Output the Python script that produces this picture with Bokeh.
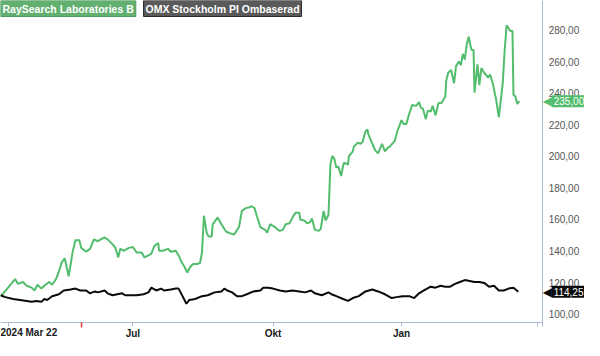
from bokeh.plotting import figure
from bokeh.models import Range1d, FixedTicker, Label, LinearAxis
from bokeh.embed import file_html
from bokeh.resources import INLINE

# trading-session index (x) and values
green_x = [0, 1, 7.5, 9, 11.5, 13.5, 16, 17.5, 19, 21, 22.5, 25, 26.5, 28.5, 30, 31.5, 33, 35, 36, 37,
           38.5, 40.5, 41.5, 44, 46, 48, 50, 51.5, 53.5, 55, 57.5, 59, 60.5, 61.5, 63.5, 66, 68,
           70, 72.5, 74, 76, 77.5, 79, 81, 81.5, 83.5, 86, 87.5, 90, 91.5, 93, 94.5, 96, 97.5, 99,
           101, 102.5, 103.5, 104.5, 106, 107, 108.5, 109, 111.5, 113.5, 115, 116, 118.5, 120,
           122.5, 124, 126, 128, 129, 130.5, 131.5, 133.5, 135,
           136, 137, 138.5, 141, 142.5, 143.5, 145, 146.5, 148.5, 150, 151.5, 153.5, 154, 156,
           157.5, 159, 160, 161.5, 163.5, 164.5, 166, 167, 168.5, 169.5, 170.5, 171.5, 172.5,
           173.5, 175, 176, 176.5, 178.5, 179, 181, 181.5, 183.5, 185, 186, 187.5, 188.5, 189,
           191, 192.5, 194, 196, 197.5, 199, 200,
           202.5, 204, 206, 207, 208.5, 210, 211.5, 213.5, 215, 216, 217, 218.5, 219.5, 221, 222,
           223.5, 225, 226.5, 228.5, 229, 230, 231.5, 233, 234, 235.5, 236.5, 237.5, 238.5, 239.5,
           240.5, 241.5, 242, 243, 243.5, 245, 246, 247, 248.5, 250.5, 251.5, 253, 254, 254.5,
           256, 256.5, 258, 259, 260, 261, 262, 263, 263.5, 264.5, 265.5, 266.5]
green_y = [111.4, 112.6, 122.2, 119.2, 120.4, 118.0, 116.8, 115.0, 118.6, 116.2, 118.0, 120.4, 118.6,
           122.2, 127.0, 133.0, 135.4, 124.0, 131.2, 139.0, 146.8, 146.8, 142.0, 139.6, 141.4,
           147.4, 146.2, 147.4, 148.6, 147.4, 144.4, 142.0, 136.0, 141.4, 140.2, 142.0, 142.6,
           139.0, 139.0, 136.0, 137.2, 138.4, 143.2, 145.0, 140.2, 140.2, 141.4, 139.6, 140.2,
           137.2, 133.0, 130.0, 126.4, 130.0, 131.8, 131.8, 132.4, 139.0, 162.4, 151.0, 149.2,
           149.2, 157.0, 161.2, 157.0, 154.0, 152.2, 151.0, 150.4, 155.2, 165.4, 167.2, 167.8,
           168.4, 167.2, 163.0, 155.2, 154.0,
           153.4, 151.6, 157.0, 155.2, 153.4, 152.8, 153.4, 157.0, 157.6, 161.2, 164.2, 164.2,
           160.0, 159.4, 157.6, 158.2, 160.6, 153.4, 152.8, 154.0, 165.4, 159.4, 163.0, 195.4,
           200.2, 198.4, 193.0, 193.6, 187.6, 194.2, 196.0, 194.8, 200.2, 203.2, 206.2, 208.6,
           208.0, 209.2, 215.8, 217.0, 214.0, 208.0, 203.8, 202.0, 208.0, 203.2, 205.6, 206.2,
           209.8, 216.4, 223.0, 220.6, 220.6, 227.2, 232.6, 232.0, 234.4, 230.8, 230.2, 223.6,
           229.0, 228.4, 232.0, 226.0, 233.8, 233.8, 238.0, 248.2, 253.0, 254.8, 246.4, 257.2,
           260.2, 257.8, 265.0, 261.4, 271.0, 275.8, 269.8, 267.4, 267.4, 240.4, 258.4, 245.2,
           256.0, 253.0, 250.0, 251.8, 245.8, 239.2, 236.8, 224.8, 230.2, 246.4, 267.4, 283.0,
           281.2, 279.4, 279.4, 239.2, 238.0, 233.2, 235.0]

black_x = [0, 2.5, 6.5, 10, 13.5, 16, 18.5, 21, 22.5, 24, 26.5, 30, 32.5, 36, 38.5, 41, 44, 46, 48.5,
           50, 53.5, 55, 57.5, 60, 62.5, 64, 66.5, 70, 73.5, 76, 77.5, 80, 82.5, 84, 87.5, 90, 91.5,
           93.5, 95.5, 97, 100, 103.5, 106.5, 110, 113.5, 115, 116.5, 119, 121.5, 124, 126.5, 130,
           133.5, 135, 137.5, 140, 143.5, 146.5, 150, 153.5, 156.5, 159.5, 161.5, 165, 168.5, 170,
           172.5, 176, 178.5, 181, 184, 187.5, 191, 194, 197.5, 201, 203.5, 206.5, 210, 212.5, 215,
           217.5, 221, 223.5, 226, 228.5, 231, 233.5, 236, 238.5, 241, 243.5, 246, 248.5, 251,
           253.5, 256, 258.5, 261, 263.5, 266]
black_y = [112.0, 110.8, 109.6, 109.0, 108.4, 107.8, 108.4, 107.8, 109.6, 109.0, 111.4, 112.6, 115.0,
           115.6, 116.2, 115.0, 115.0, 113.2, 114.4, 113.8, 115.0, 113.2, 112.0, 112.6, 113.2, 112.0,
           112.0, 112.0, 112.6, 113.8, 116.8, 115.0, 116.2, 115.0, 115.6, 116.2, 116.2, 111.4, 106.6,
           109.0, 109.6, 111.4, 112.0, 113.8, 114.4, 116.2, 115.0, 113.8, 111.4, 111.4, 112.6, 114.4,
           115.0, 116.8, 116.8, 116.2, 115.0, 114.4, 115.0, 114.4, 113.8, 115.0, 113.2, 112.0, 113.8,
           112.6, 111.4, 109.6, 108.4, 110.2, 111.4, 114.4, 115.6, 114.4, 112.6, 110.2, 110.8, 111.4,
           111.4, 110.2, 113.2, 115.0, 117.4, 116.8, 118.0, 117.4, 117.4, 119.2, 120.4, 121.6, 121.0,
           120.4, 120.4, 119.8, 117.4, 118.0, 115.0, 115.0, 116.2, 116.8, 114.25]

x_tick_pos = [4, 68, 140, 206, 276]
x_tick_labels = ["", "Jul", "Okt", "Jan", ""]
first_date_label = "2024 Mar 22"
marker_pos = [41.5]
y_ticks = [100, 120, 140, 160, 180, 200, 220, 240, 260, 280]
y_tick_labels = ["100,00", "120,00", "140,00", "160,00", "180,00", "200,00", "220,00", "240,00",
                 "260,00", "280,00"]
series_names = ["RaySearch Laboratories B", "OMX Stockholm PI Ombaserad"]
last_green = 235.0
last_black = 114.25

X_END_DATA = 278.5   # right edge of the plotting area (where the price axis sits)
Y_BASE = 94.6        # value at the time axis line
X_MAX, Y_MIN, Y_MAX = 300, 83.3, 298.8

GREEN = "#52bd6c"
AXIS = "#a9bed3"
FONT = "Liberation Sans"

p = figure(width=584, height=340, output_backend="svg", toolbar_location=None,
           x_range=Range1d(0, X_MAX), y_range=Range1d(Y_MIN, Y_MAX),
           min_border_left=0, min_border_top=0, min_border_right=0, min_border_bottom=0,
           y_axis_location="right")
p.outline_line_color = None
p.grid.visible = False
p.background_fill_color = "white"
p.border_fill_color = "white"

p.line(green_x, green_y, line_color=GREEN, line_width=2)
p.line(black_x, black_y, line_color="#0a0a0a", line_width=2)

xa = p.xaxis[0]
xa.fixed_location = Y_BASE
xa.bounds = (0, X_END_DATA)
xa.ticker = FixedTicker(ticks=x_tick_pos)
xa.major_label_overrides = {t: l for t, l in zip(x_tick_pos, x_tick_labels)}
xa.minor_tick_line_color = None
xa.major_tick_in = 0
xa.major_tick_out = 4
xa.major_tick_line_color = AXIS
xa.axis_line_color = AXIS
xa.major_label_standoff = 1
xa.major_label_text_font = FONT
xa.major_label_text_font_size = "10px"
xa.major_label_text_font_style = "bold"
xa.major_label_text_color = "#1a1a1a"

# red marker tick on the time axis
mark_axis = LinearAxis(fixed_location=Y_BASE, ticker=FixedTicker(ticks=marker_pos),
                       major_label_overrides={marker_pos[0]: ""}, axis_line_color=None,
                       major_tick_in=0, major_tick_out=5, major_tick_line_color="#e8383d",
                       major_tick_line_width=1.5, minor_tick_line_color=None)
p.add_layout(mark_axis, "below")

ya = p.yaxis[0]
ya.fixed_location = X_END_DATA
ya.bounds = (Y_BASE - 2.5, Y_MAX)
ya.ticker = FixedTicker(ticks=y_ticks)
ya.major_label_overrides = {t: l for t, l in zip(y_ticks, y_tick_labels)}
ya.minor_tick_line_color = None
ya.major_tick_in = 0
ya.major_tick_out = 0
ya.axis_line_color = AXIS
ya.major_label_standoff = 6
ya.major_label_text_font = FONT
ya.major_label_text_font_size = "10px"
ya.major_label_text_color = "#555555"

# first date label, left aligned
p.add_layout(Label(x=0, y=Y_BASE, text=first_date_label, text_align="left", text_baseline="top",
                   y_offset=-4, text_font=FONT, text_font_size="10px", text_font_style="bold",
                   text_color="#1a1a1a"))

# legend boxes
p.add_layout(Label(x=0, y=Y_MAX, text=series_names[0], text_align="left", text_baseline="top",
                   x_offset=0, y_offset=0, text_font=FONT, text_font_size="10.5px",
                   text_font_style="bold", text_color="white", background_fill_color="#62b06f",
                   border_line_color="#4c9a5a", padding=2))
p.add_layout(Label(x=0, y=Y_MAX, text=series_names[1], text_align="left", text_baseline="top",
                   x_offset=143, y_offset=0, text_font=FONT, text_font_size="10.5px",
                   text_font_style="bold", text_color="white", background_fill_color="#5a5a5a",
                   border_line_color="#2e2e2e", padding=2))

# last value tags
for val, col in [(last_green, GREEN), (last_black, "#0a0a0a")]:
    txt = f"{val:.2f}".replace(".", ",")
    p.add_layout(Label(x=X_END_DATA, y=val, text="\u25c0", text_align="left", text_baseline="middle",
                       x_offset=0, text_font="DejaVu Sans", text_font_size="12px", text_color=col))
    p.add_layout(Label(x=X_END_DATA, y=val, text=txt, text_align="left", text_baseline="middle",
                       x_offset=9, text_font=FONT, text_font_size="10px", text_color="white",
                       background_fill_color=col, padding=2))

open("out.html", "w").write(file_html(p, INLINE))
